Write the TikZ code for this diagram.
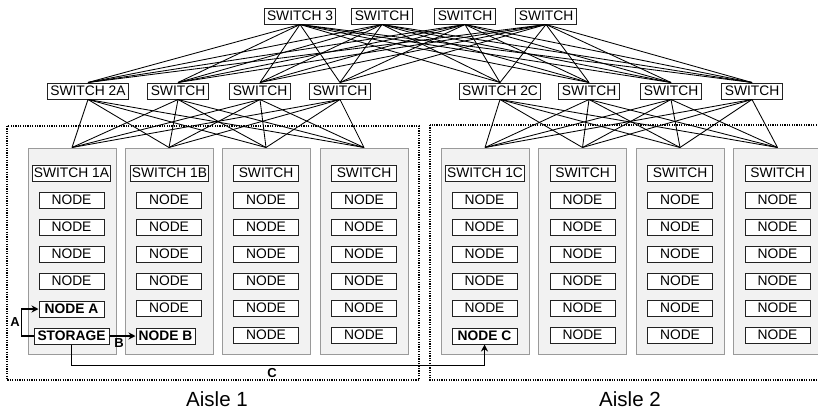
\documentclass[tikz,border=0pt]{standalone}
\usepackage{fontspec}
\setmainfont{Liberation Sans}
\usetikzlibrary{arrows.meta}
\definecolor{rackfill}{HTML}{F2F2F2}
\definecolor{rackline}{HTML}{9A9A9A}
\definecolor{boxline}{HTML}{222222}
\begin{document}
\begin{tikzpicture}[x=1pt,y=-1pt,
  every node/.style={font=\fontsize{13.8}{15}\selectfont},
  rack/.style={draw=rackline,fill=rackfill,line width=1pt,minimum width=88pt,minimum height=206pt,inner sep=0pt},
  unit/.style={draw=boxline,fill=white,line width=1pt,minimum width=65pt,minimum height=16pt,inner xsep=1.5pt,inner ysep=0pt},
  sw/.style={draw=boxline,fill=white,line width=1pt,minimum height=16pt,inner xsep=3pt,inner ysep=0pt},
  hot/.style={font=\fontsize{13.8}{15}\bfseries\selectfont},
  link/.style={line width=0.85pt},
  flow/.style={line width=1.8pt,-{Stealth[length=7pt,width=7pt]}},
  tag/.style={font=\fontsize{13}{14}\bfseries\selectfont},
  aisle/.style={line width=1.8pt,dash pattern=on 1.2pt off 1.2pt},
  aislename/.style={font=\fontsize{20.5}{22}\selectfont}]
\useasboundingbox (0,0) rectangle (818,415);

% aisle frames
\draw[aisle] (7,126) rectangle (419,380);
\draw[aisle] (430,125) rectangle (840,380);

% racks of aisle 1 (L) and aisle 2 (R)
\foreach \n/\x in {1/72,2/169,3/266,4/364}
  \node[rack] (L\n) at (\x,251) {};
\foreach \n/\x in {1/485,2/582.5,3/680,4/777.5}
  \node[rack] (R\n) at (\x,251) {};

% top tier switches
\node[sw] (T1) at (300,16) {SWITCH 3};
\node[sw] (T2) at (382,16) {SWITCH};
\node[sw] (T3) at (465,16) {SWITCH};
\node[sw] (T4) at (546,16) {SWITCH};

% aggregation switches
\node[sw] (A1) at (88,91) {SWITCH 2A};
\node[sw] (A2) at (178,91) {SWITCH};
\node[sw] (A3) at (260,91) {SWITCH};
\node[sw] (A4) at (340,91) {SWITCH};
\node[sw] (B1) at (500,91) {SWITCH 2C};
\node[sw] (B2) at (589,91) {SWITCH};
\node[sw] (B3) at (671,91) {SWITCH};
\node[sw] (B4) at (752,91) {SWITCH};

% full mesh between tiers
\foreach \t in {T1,T2,T3,T4}
  \foreach \a in {A1,A2,A3,A4,B1,B2,B3,B4}
    \draw[link] (\t.south) -- (\a.north);
\foreach \a in {A1,A2,A3,A4}
  \foreach \r in {L1,L2,L3,L4}
    \draw[link] (\a.south) -- (\r.north);
\foreach \a in {B1,B2,B3,B4}
  \foreach \r in {R1,R2,R3,R4}
    \draw[link] (\a.south) -- (\r.north);

% rack contents, aisle 1
\node[unit] (L1s) at (71.5,173) {SWITCH 1A};
\node[unit] (L2s) at (169.5,173) {SWITCH 1B};
\node[unit] (L3s) at (266,173) {SWITCH};
\node[unit] (L4s) at (364,173) {SWITCH};
\foreach \k/\y in {1/200,2/227,3/254,4/281}
  \node[unit] (L1n\k) at (71.5,\y) {NODE};
\node[unit,hot] (nodeA) at (71.5,309) {NODE A};
\node[unit,hot,minimum width=75pt] (stor) at (71.5,336) {STORAGE};
\foreach \k/\y in {1/200,2/227,3/254,4/281,5/308}
  \node[unit] (L2n\k) at (169,\y) {NODE};
\node[unit,hot,minimum width=59pt] (nodeB) at (165.5,336) {NODE B};
\foreach \r/\x in {3/266,4/364}
  \foreach \k/\y in {1/200,2/227,3/254,4/281,5/308,6/335}
    \node[unit] (L\r n\k) at (\x,\y) {NODE};

% rack contents, aisle 2
\node[unit] (R1s) at (485,173) {SWITCH 1C};
\foreach \k/\y in {1/200,2/227,3/254,4/281,5/308}
  \node[unit] (R1n\k) at (484.5,\y) {NODE};
\node[unit,hot] (nodeC) at (484.5,336) {NODE C};
\foreach \r/\x in {2/582.5,3/680,4/777.5}{
  \node[unit] (R\r s) at (\x,173) {SWITCH};
  \foreach \k/\y in {1/200,2/227,3/254,4/281,5/308,6/335}
    \node[unit] (R\r n\k) at (\x,\y) {NODE};
}

% storage traffic paths
\draw[flow] (stor.west) -- ++(-12,0) |- (nodeA.west);
\node[tag] (tagA) at (15,322) {A};
\draw[flow] (stor.east) -- (nodeB.west);
\node[tag] (tagB) at (119,343) {B};
\draw[flow] (stor.south) -- ++(0,21) -| (nodeC.south);
\node[tag] (tagC) at (272,373) {C};

% aisle names
\node[aislename] (aisle1) at (217,399) {Aisle 1};
\node[aislename] (aisle2) at (630,399) {Aisle 2};
\end{tikzpicture}
\end{document}
